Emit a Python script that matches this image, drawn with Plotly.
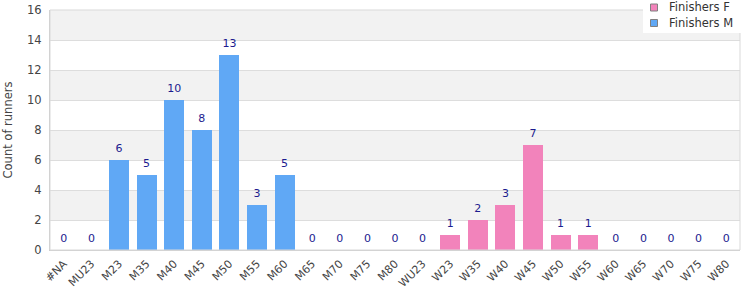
import plotly.graph_objects as go

categories = ["#NA", "MU23", "M23", "M35", "M40", "M45", "M50", "M55", "M60", "M65", "M70", "M75", "M80",
              "WU23", "W23", "W35", "W40", "W45", "W50", "W55", "W60", "W65", "W70", "W75", "W80"]
finishers_m = [0, 0, 6, 5, 10, 8, 13, 3, 5, 0, 0, 0, 0, 0, 0, 0, 0, 0, 0, 0, 0, 0, 0, 0, 0]
finishers_f = [0, 0, 0, 0, 0, 0, 0, 0, 0, 0, 0, 0, 0, 0, 1, 2, 3, 7, 1, 1, 0, 0, 0, 0, 0]
y_ticks = [0, 2, 4, 6, 8, 10, 12, 14, 16]
series_names = ["Finishers F", "Finishers M"]
series_colors = ["#f283bb", "#60a8f5"]

totals = [m + f for m, f in zip(finishers_m, finishers_f)]

W, H = 750, 300
ML, MR, MT, MB = 50, 10, 10, 50
PW, PH = W - ML - MR, H - MT - MB


def px_x(p):
    return (p - ML) / PW


def px_y(p):
    return (H - MB - p) / PH


FONT = "DejaVu Sans"
fig = go.Figure()
for name, vals, col in zip(series_names, [finishers_f, finishers_m], series_colors):
    fig.add_trace(go.Bar(x=categories, y=vals, name=name, marker_color=col,
                         marker_line_width=0, showlegend=False))
fig.add_trace(go.Scatter(x=categories, y=totals, mode="markers+text", text=[str(t) for t in totals],
                         textposition="top center", showlegend=False, hoverinfo="skip",
                         marker=dict(size=7, opacity=0),
                         textfont=dict(family=FONT, size=11, color="#1c1c8f")))

# alternating background bands
shapes = []
for i in range(1, len(y_ticks) - 1, 2):
    shapes.append(dict(type="rect", xref="paper", yref="y", x0=0, x1=1,
                       y0=y_ticks[i], y1=y_ticks[i + 1], fillcolor="#f2f2f2",
                       line_width=0, layer="below"))
shapes.append(dict(type="rect", xref="paper", yref="paper", x0=0, x1=1, y0=0, y1=1,
                   line=dict(color="#d9d9d9", width=1), fillcolor="rgba(0,0,0,0)", layer="above"))

# custom legend (box + swatches + labels)
annotations = []
shapes.append(dict(type="rect", xref="paper", yref="paper", x0=px_x(643), x1=px_x(741),
                   y0=px_y(33), y1=px_y(0), fillcolor="white", line_width=0, layer="above"))
for k, (name, col) in enumerate(zip(series_names, series_colors)):
    cy = 7.5 + 15.5 * k
    shapes.append(dict(type="rect", xref="paper", yref="paper", x0=px_x(650.5), x1=px_x(657.5),
                       y0=px_y(cy + 3.5), y1=px_y(cy - 3.5), fillcolor=col,
                       line=dict(color="#808080", width=1), layer="above"))
    annotations.append(dict(xref="paper", yref="paper", x=px_x(667), y=px_y(cy), text=name,
                            xanchor="left", yanchor="middle", showarrow=False,
                            font=dict(family=FONT, size=11.5, color="#333")))

fig.update_layout(
    width=W, height=H,
    margin=dict(l=ML, r=MR, t=MT, b=MB),
    barmode="stack", bargap=0.275,
    plot_bgcolor="white", paper_bgcolor="white",
    font=dict(family=FONT, size=11, color="#444"),
    shapes=shapes, annotations=annotations,
    showlegend=False,
)
fig.update_xaxes(tickangle=-45, tickfont=dict(size=11, color="#444"), showgrid=False,
                 range=[-0.5, len(categories) - 0.5], automargin=False,
                 showline=True, linecolor="#cccccc", ticks="", fixedrange=True,
                 ticklabelstandoff=2)
fig.update_yaxes(range=[0, 16], tickvals=y_ticks, tickfont=dict(size=11.5, color="#444"),
                 showgrid=True, gridcolor="#dddddd", zeroline=False, showline=True, linecolor="#cccccc",
                 ticklabelstandoff=5, automargin=False,
                 title=dict(text="Count of runners", font=dict(size=11.5, color="#444"), standoff=12))

fig.write_html("out.html")
